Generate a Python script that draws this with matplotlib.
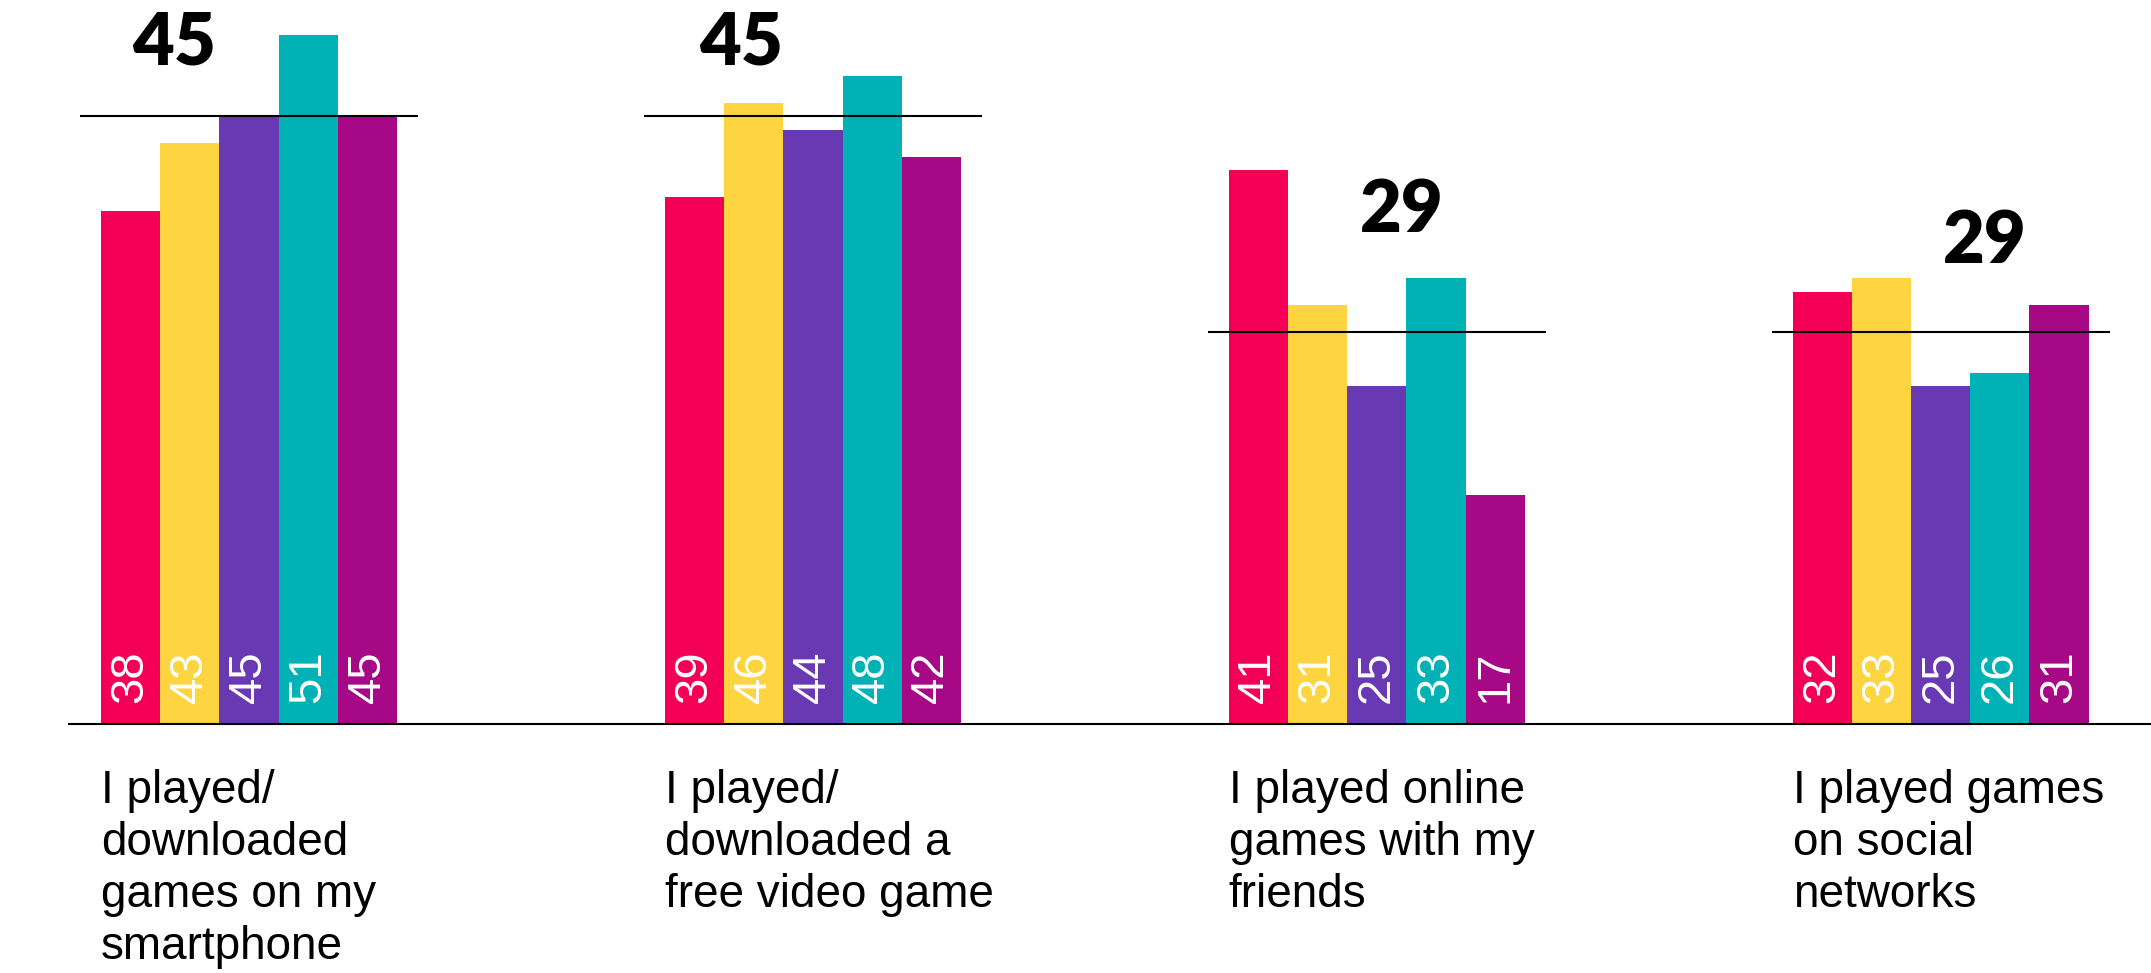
import matplotlib.pyplot as plt
import numpy as np

# Survey answers (%), five segments per activity
categories = [
    "I played/\ndownloaded\ngames on my\nsmartphone",
    "I played/\ndownloaded a\nfree video game",
    "I played online\ngames with my\nfriends",
    "I played games\non social\nnetworks",
]
seg_red = [38, 39, 41, 32]
seg_yellow = [43, 46, 31, 33]
seg_purple = [45, 44, 25, 25]
seg_teal = [51, 48, 33, 26]
seg_magenta = [45, 42, 17, 31]
averages = [45, 45, 29, 29]

series = [seg_red, seg_yellow, seg_purple, seg_teal, seg_magenta]
colors = ["#F30056", "#FED540", "#6939B4", "#00B2B5", "#A60886"]

# layout of the bold average labels (x shift from group centre, y in data units)
avg_label_dx = [-0.133, -0.128, 0.045, 0.079]
avg_label_y = [50.4, 50.4, 38.0, 35.7]

fig = plt.figure(figsize=(21.51, 9.73), dpi=100)
ax = fig.add_axes([0, 0, 1, 1])

x = np.arange(len(categories))
w = 0.105

for k, (vals, col) in enumerate(zip(series, colors)):
    xs = x + (k - 2) * w
    ax.bar(xs, vals, width=w, color=col, linewidth=0, zorder=2)
    for xi, v in zip(xs, vals):
        ax.text(xi, 1.6, str(v), rotation=90, ha="center", va="bottom",
                color="white", fontsize=34, family="Liberation Sans",
                zorder=4)

# group averages
for i, avg in enumerate(averages):
    ax.plot([x[i] - 0.3, x[i] + 0.3], [avg, avg], color="black", lw=1.5,
            zorder=3, solid_capstyle="butt")
    ax.text(x[i] + avg_label_dx[i], avg_label_y[i], str(avg), ha="center",
            va="center", fontsize=52, fontweight="heavy", family="Lato",
            color="black", zorder=4)

# baseline
ax.plot([-0.32, 3.5], [0, 0], color="black", lw=1.5, zorder=3)

# category labels under each group
for i, cat in enumerate(categories):
    ax.text(x[i] - 2.5 * w, -3.3, cat, ha="left", va="top", fontsize=33,
            family="Liberation Sans", linespacing=1.24, color="black")

ax.set_xlim(-0.4416, 3.373)
ax.set_ylim(-18.4, 53.6)
ax.axis("off")

fig.savefig("out.png", dpi=100)
